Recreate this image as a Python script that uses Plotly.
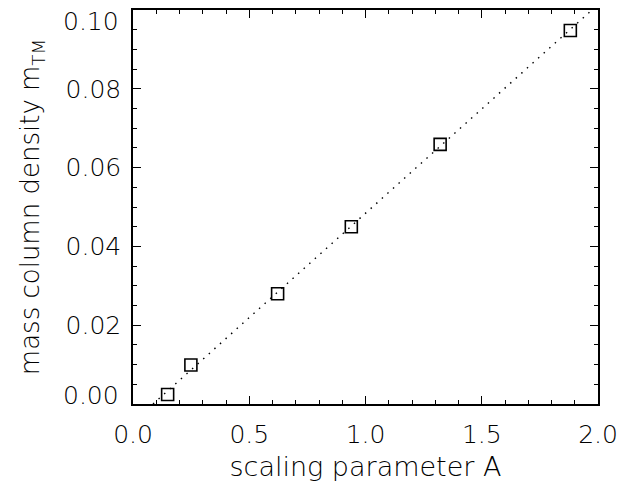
import plotly.graph_objects as go

# Data
scaling_A = [0.149, 0.249, 0.622, 0.939, 1.321, 1.881]
mass_density = [0.0024, 0.0099, 0.0280, 0.0450, 0.0659, 0.0948]

# dotted fit line endpoints
fit_x = [0.086, 1.974]
fit_y = [0.0, 0.1]

# y tick values / labels (end labels are nudged inward as in the reference)
y_tick_vals = [0.00, 0.02, 0.04, 0.06, 0.08, 0.10]
y_tick_text = ["0.00", "0.02", "0.04", "0.06", "0.08", "0.10"]

FONT = "DejaVu Sans"
W = 200

fig = go.Figure()
fig.add_trace(go.Scatter(
    x=fit_x, y=fit_y, mode="lines",
    line=dict(color="black", width=1.4, dash="1.5px,6px"),
    showlegend=False, hoverinfo="skip",
))
fig.add_trace(go.Scatter(
    x=scaling_A, y=mass_density, mode="markers",
    marker=dict(symbol="square-open", size=12, color="black",
                line=dict(color="black", width=1.6)),
    showlegend=False,
))

tickfont = dict(family=FONT, size=25, color="black", weight=W)

axis_common = dict(
    showgrid=False, zeroline=False, automargin=False,
    showline=True, linecolor="black", linewidth=1.5,
    mirror="allticks", ticks="inside", ticklen=8, tickwidth=1.3,
    tickcolor="black", ticklabeloverflow="allow",
    tickfont=tickfont,
)

# middle labels as axis tick labels, end labels as nudged annotations
shown_text = [t if 0 < i < len(y_tick_text) - 1 else "" for i, t in enumerate(y_tick_text)]

fig.update_layout(
    width=633, height=486,
    margin=dict(l=133, r=35, t=10, b=82),
    paper_bgcolor="white", plot_bgcolor="white",
    xaxis=dict(
        range=[-1e-9, 2.0000001], tick0=0, dtick=0.5, tickformat=".1f",
        ticklabelstandoff=7,
        minor=dict(dtick=0.1, ticks="inside", ticklen=4.5, tickwidth=1.3, tickcolor="black"),
        title=dict(text="scaling parameter A", standoff=9,
                   font=dict(family=FONT, size=27, color="black", weight=W)),
        **axis_common,
    ),
    yaxis=dict(
        range=[-1e-9, 0.1000001], tickvals=y_tick_vals, ticktext=shown_text,
        ticklabelstandoff=5,
        minor=dict(dtick=0.005, ticks="inside", ticklen=4.5, tickwidth=1.3, tickcolor="black"),
        title=dict(text="mass column density m<sub>TM</sub>", standoff=18,
                   font=dict(family=FONT, size=26, color="black", weight=W)),
        **axis_common,
    ),
)

for val, txt, shift in [(y_tick_vals[0], y_tick_text[0], 9),
                        (y_tick_vals[-1], y_tick_text[-1], -11)]:
    fig.add_annotation(
        xref="paper", yref="y", x=0, y=val, text=txt, showarrow=False,
        xanchor="right", yanchor="middle", xshift=-12, yshift=shift,
        font=tickfont,
    )

fig.write_html("out.html", config={"displayModeBar": False},
               post_script="document.body.style.margin='0';")
